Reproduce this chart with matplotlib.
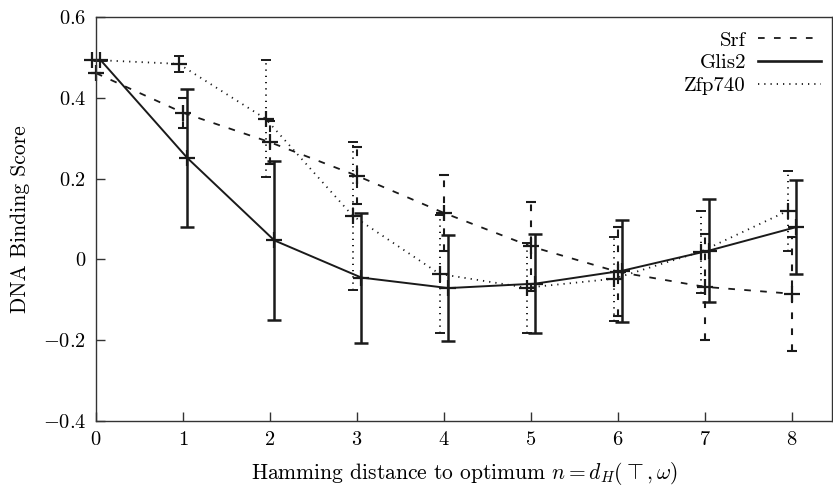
import matplotlib
matplotlib.use("Agg")
import matplotlib.pyplot as plt
from matplotlib.lines import Line2D
import numpy as np

plt.rcParams['font.family'] = 'serif'
plt.rcParams['font.serif'] = ['cmr10', 'DejaVu Serif']
plt.rcParams['mathtext.fontset'] = 'cm'
plt.rcParams['axes.formatter.use_mathtext'] = True
plt.rcParams['lines.scale_dashes'] = False

# ---- data ----
hamming = [0, 1, 2, 3, 4, 5, 6, 7, 8]
srf_mean = [0.461, 0.363, 0.290, 0.207, 0.115, 0.032, -0.031, -0.068, -0.085]
srf_err = [0.0, 0.037, 0.053, 0.070, 0.095, 0.110, 0.110, 0.132, 0.141]
glis2_mean = [0.494, 0.251, 0.047, -0.045, -0.071, -0.060, -0.028, 0.022, 0.080]
glis2_err = [0.0, 0.171, 0.196, 0.161, 0.132, 0.123, 0.126, 0.127, 0.117]
zfp740_mean = [0.494, 0.484, 0.348, 0.108, -0.036, -0.070, -0.048, 0.019, 0.120]
zfp740_err = [0.0, 0.020, 0.145, 0.183, 0.146, 0.111, 0.104, 0.102, 0.100]
series_names = ['Srf', 'Glis2', 'Zfp740']
y_ticks = [-0.4, -0.2, 0, 0.2, 0.4, 0.6]
y_tick_labels = ['$-0.4$', '$-0.2$', '$0$', '$0.2$', '$0.4$', '$0.6$']
x_ticks = [0, 1, 2, 3, 4, 5, 6, 7, 8]

W, H = 833, 487
fig = plt.figure(figsize=(W / 100, H / 100), dpi=100)
ax = fig.add_axes([96 / W, (H - 421) / H, (832 - 96) / W, (421 - 17) / H])

col = '#1a1a1a'
styles = {
    'Srf': dict(ls=(0, (4.8, 6.7)), lw=1.3, off=0.0, capsize=3.5, elw=1.5),
    'Glis2': dict(ls='-', lw=1.4, off=0.05, capsize=5, elw=1.8),
    'Zfp740': dict(ls=(0, (0.9, 3.6)), lw=1.3, off=-0.05, capsize=3.5, elw=1.4),
}
data = {
    'Srf': (srf_mean, srf_err),
    'Glis2': (glis2_mean, glis2_err),
    'Zfp740': (zfp740_mean, zfp740_err),
}

x = np.array(hamming, dtype=float)
handles = []
for name in series_names:
    m, e = data[name]
    st = styles[name]
    xs = x + st['off']
    eb = ax.errorbar(xs, m, yerr=e, fmt='none', ecolor=col, elinewidth=st['elw'],
                     capsize=st['capsize'], capthick=st['elw'], clip_on=False)
    for lc in eb[2]:
        lc.set_linestyle(st['ls'])
    ax.plot(xs, m, color=col, ls=st['ls'], lw=st['lw'], clip_on=False)
    ax.plot(xs, m, ls='none', marker='+', markersize=11, markeredgewidth=1.6,
            color=col, clip_on=False)
    handles.append(Line2D([], [], color=col, ls=st['ls'],
                          lw=st['lw'] + 0.5 if name == 'Glis2' else st['lw']))

ax.set_xlim(0, (832 - 96) / 87)
ax.set_ylim(-0.4, 0.6)
ax.set_xticks(x_ticks)
ax.set_xticklabels([f'${t}$' for t in x_ticks])
ax.set_yticks(y_ticks)
ax.set_yticklabels(y_tick_labels)
ax.tick_params(direction='in', length=6.5, width=1, labelsize=14.7, color='#333333',
               top=False, right=False, pad=7)
for s in ax.spines.values():
    s.set_color('#333333')
    s.set_linewidth(1.0)

ax.set_xlabel(r'Hamming distance to optimum $n = d_H(\top, \omega)$', fontsize=15.5, labelpad=8)
ax.set_ylabel('DNA Binding Score', fontsize=15.5, labelpad=9)

leg = ax.legend(handles, series_names, loc='upper right', bbox_to_anchor=(0.985, 0.965),
                frameon=False, markerfirst=False, fontsize=15, handlelength=3.0,
                handletextpad=0.6, labelspacing=0.2, borderpad=0, borderaxespad=0)

fig.savefig('out.png', dpi=100)
